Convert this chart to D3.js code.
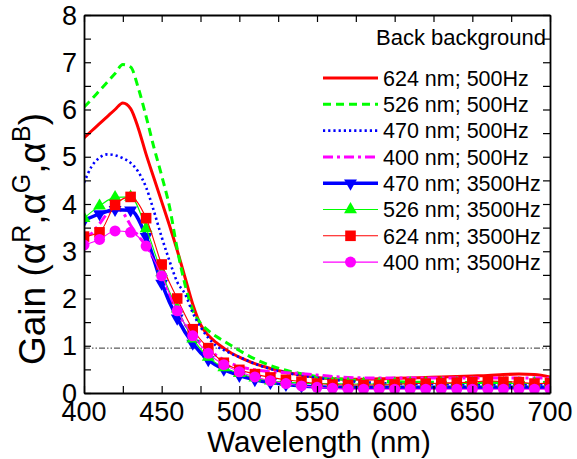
<!DOCTYPE html>
<html>
<head>
<meta charset="utf-8">
<script src="https://cdn.jsdelivr.net/npm/d3@7"></script>
<style>
  html, body { margin: 0; padding: 0; background: #fff; }
  svg text { font-family: "Liberation Sans", Arial, Helvetica, sans-serif; fill: #000; }
</style>
</head>
<body>
<svg id="chart" width="577" height="459"></svg>
<script>
// Wavelength grids (nm)
const wlFine = [400,405,410,415,420,425,430,435,440,445,450,455,460,465,470,475,480,485,490,495,500,
                510,520,530,540,550,560,570,580,590,600,610,620,630,640,650,660,670,680,690,700];
const wlMarked = d3.range(400, 701, 10);

// 500 Hz series (lines only), sampled on wlFine
const red500 = [5.40,5.55,5.70,5.85,6.00,6.14,6.02,5.60,5.05,4.55,4.05,3.55,3.02,2.45,1.88,1.45,1.22,1.07,0.95,0.84,0.76,
                0.62,0.52,0.44,0.38,0.33,0.30,0.29,0.29,0.30,0.31,0.32,0.33,0.34,0.35,0.36,0.37,0.39,0.40,0.39,0.34];
const green500 = [6.05,6.22,6.40,6.58,6.76,6.95,6.90,6.45,5.85,5.20,4.60,3.95,3.05,2.30,1.75,1.48,1.32,1.20,1.10,1.00,0.90,
                  0.72,0.58,0.48,0.41,0.35,0.31,0.28,0.26,0.25,0.24,0.23,0.23,0.23,0.22,0.22,0.22,0.22,0.22,0.22,0.22];
const blue500 = [4.45,4.80,4.98,5.05,5.03,4.97,4.87,4.68,4.35,3.85,3.30,2.80,2.35,2.10,1.70,1.40,1.17,1.00,0.91,0.83,0.76,
                 0.62,0.51,0.43,0.37,0.32,0.28,0.25,0.23,0.21,0.20,0.19,0.19,0.19,0.18,0.18,0.18,0.18,0.18,0.18,0.18];
const magenta500 = [3.30,3.38,3.58,3.80,3.93,3.82,3.55,3.32,3.12,2.82,2.45,2.05,1.72,1.45,1.24,1.06,0.92,0.80,0.70,0.62,0.56,
                    0.49,0.45,0.43,0.41,0.38,0.35,0.33,0.32,0.32,0.32,0.32,0.32,0.32,0.32,0.32,0.32,0.32,0.32,0.32,0.31];

// 3500 Hz series (lines with markers), sampled on wlMarked
const blue3500 = [3.65,3.79,3.88,3.87,3.31,2.32,1.58,1.05,0.70,0.50,0.37,0.28,0.22,0.18,0.15,0.13,0.12,0.12,0.12,0.12,0.12,
                  0.12,0.12,0.12,0.12,0.12,0.12,0.12,0.12,0.12,0.12];
const green3500 = [3.70,3.96,4.14,4.15,3.48,2.55,1.78,1.15,0.76,0.54,0.42,0.32,0.26,0.23,0.21,0.20,0.20,0.19,0.19,0.19,0.19,
                   0.20,0.20,0.20,0.20,0.20,0.20,0.20,0.20,0.20,0.20];
const red3500 = [3.31,3.40,3.98,4.15,3.70,2.72,2.00,1.35,0.95,0.64,0.49,0.40,0.33,0.28,0.24,0.20,0.18,0.17,0.17,0.17,0.18,
                 0.20,0.20,0.21,0.22,0.23,0.26,0.24,0.23,0.20,0.21];
const magenta3500 = [3.13,3.25,3.43,3.40,3.11,2.48,1.74,1.21,0.84,0.60,0.45,0.34,0.26,0.20,0.15,0.12,0.10,0.08,0.08,0.08,0.08,
                     0.08,0.08,0.08,0.08,0.08,0.08,0.08,0.08,0.08,0.08];

const unityLevel = 0.95;

const xTicks = [400,450,500,550,600,650,700];
const yTicks = [0,1,2,3,4,5,6,7,8];

const seriesNames = ["624 nm; 500Hz","526 nm; 500Hz","470 nm; 500Hz","400 nm; 500Hz",
                     "470 nm; 3500Hz","526 nm; 3500Hz","624 nm; 3500Hz","400 nm; 3500Hz"];
const panelNote = "Back background";

// ---- drawing ----
const svg = d3.select("#chart");
const plotL = 84, plotR = 550, plotT = 15, plotB = 393;
const x = d3.scaleLinear().domain([400, 700]).range([plotL, plotR]);
const y = d3.scaleLinear().domain([0, 8]).range([plotB, plotT]);

const series = [
  {name: seriesNames[0], wl: wlFine, v: red500, color: "#ff0000", width: 3, dash: null, marker: null},
  {name: seriesNames[1], wl: wlFine, v: green500, color: "#00ff00", width: 3, dash: "8,5", marker: null},
  {name: seriesNames[2], wl: wlFine, v: blue500, color: "#0000ff", width: 2.6, dash: "2.2,3", marker: null},
  {name: seriesNames[3], wl: wlFine, v: magenta500, color: "#ff00ff", width: 3, dash: "10,4,3,4", marker: null},
  {name: seriesNames[4], wl: wlMarked, v: blue3500, color: "#0000ff", width: 3.5, dash: null, marker: "down"},
  {name: seriesNames[5], wl: wlMarked, v: green3500, color: "#00ff00", width: 1.1, dash: null, marker: "up"},
  {name: seriesNames[6], wl: wlMarked, v: red3500, color: "#ff0000", width: 1.1, dash: null, marker: "square"},
  {name: seriesNames[7], wl: wlMarked, v: magenta3500, color: "#ff00ff", width: 1.1, dash: null, marker: "circle"}
];

const symbolFor = {
  down: d3.symbol().type(d3.symbolTriangle).size(72),
  up: d3.symbol().type(d3.symbolTriangle).size(72),
  square: d3.symbol().type(d3.symbolSquare).size(112),
  circle: d3.symbol().type(d3.symbolCircle).size(95)
};
function markerTransform(kind, px, py) {
  return kind === "down" ? `translate(${px},${py}) rotate(180)` : `translate(${px},${py})`;
}

const plot = svg.append("g");
plot.append("clipPath").attr("id", "clip")
  .append("rect").attr("x", plotL).attr("y", plotT).attr("width", plotR - plotL).attr("height", plotB - plotT);

// Reference line near unity gain
plot.append("line")
  .attr("x1", plotL).attr("x2", plotR)
  .attr("y1", y(unityLevel)).attr("y2", y(unityLevel))
  .attr("stroke", "#333").attr("stroke-width", 1)
  .attr("stroke-dasharray", "6,2,1.5,2,1.5,2");

const lineGen = d3.line().curve(d3.curveMonotoneX);
const curves = plot.append("g").attr("clip-path", "url(#clip)");
series.forEach(s => {
  const pts = s.wl.map((w, i) => [x(w), y(s.v[i])]);
  curves.append("path")
    .attr("d", lineGen(pts))
    .attr("fill", "none")
    .attr("stroke", s.color)
    .attr("stroke-width", s.width)
    .attr("stroke-dasharray", s.dash)
    .attr("stroke-linejoin", "round");
  if (s.marker) {
    curves.append("g").selectAll("path").data(pts).join("path")
      .attr("d", symbolFor[s.marker]())
      .attr("transform", p => markerTransform(s.marker, p[0], p[1]))
      .attr("fill", s.color);
  }
});

// Axes: box frame with inward ticks on all sides
const axes = svg.append("g");
const xMinor = d3.range(400, 701, 25);
const yMinor = d3.range(0, 8.01, 0.5);
axes.append("g").attr("transform", `translate(0,${plotB})`).call(d3.axisBottom(x).tickValues(xMinor)
  .tickSizeInner(-7).tickSizeOuter(0).tickFormat(""));
axes.append("g").attr("transform", `translate(0,${plotT})`).call(d3.axisTop(x).tickValues(xMinor)
  .tickSizeInner(-7).tickSizeOuter(0).tickFormat(""));
axes.append("g").attr("transform", `translate(${plotL},0)`).call(d3.axisLeft(y).tickValues(yMinor)
  .tickSizeInner(-7).tickSizeOuter(0).tickFormat(""));
axes.append("g").attr("transform", `translate(${plotR},0)`).call(d3.axisRight(y).tickValues(yMinor)
  .tickSizeInner(-7).tickSizeOuter(0).tickFormat(""));
axes.selectAll(".domain").attr("stroke", "#000").attr("stroke-width", 1.8);
axes.selectAll(".tick line").attr("stroke", "#000").attr("stroke-width", 1.2);

// Tick labels
svg.append("g").selectAll("text").data(xTicks).join("text")
  .attr("x", d => x(d)).attr("y", 421)
  .attr("text-anchor", "middle").attr("font-size", 27)
  .text(d => d);
svg.append("g").selectAll("text").data(yTicks).join("text")
  .attr("x", 77).attr("y", d => y(d)).attr("dy", "0.36em")
  .attr("text-anchor", "end").attr("font-size", 27)
  .text(d => d);

// Axis titles
svg.append("text")
  .attr("x", (plotL + plotR) / 2 + 2).attr("y", 452)
  .attr("text-anchor", "middle").attr("font-size", 29.5)
  .text("Wavelength (nm)");

// Rotated y title with superscript channel labels (shift given in px so it cancels exactly)
const supShift = 15;
const yTitle = svg.append("text")
  .attr("transform", "translate(45,239) rotate(-90)")
  .attr("text-anchor", "middle").attr("font-size", 37);
yTitle.append("tspan").text("Gain (α");
yTitle.append("tspan").attr("dy", -supShift).attr("font-size", 25).text("R");
yTitle.append("tspan").attr("dy", supShift).text(",α");
yTitle.append("tspan").attr("dy", -supShift).attr("font-size", 25).text("G");
yTitle.append("tspan").attr("dy", supShift).text(",α");
yTitle.append("tspan").attr("dy", -supShift).attr("font-size", 25).text("B");
yTitle.append("tspan").attr("dy", supShift).text(")");

// Legend
svg.append("text")
  .attr("x", 546).attr("y", 45)
  .attr("text-anchor", "end").attr("font-size", 22)
  .text(panelNote);

const legend = svg.append("g");
series.forEach((s, i) => {
  const cy = 78 + i * 26.3;
  legend.append("line")
    .attr("x1", 323).attr("x2", 378).attr("y1", cy).attr("y2", cy)
    .attr("stroke", s.color).attr("stroke-width", s.width)
    .attr("stroke-dasharray", s.dash);
  if (s.marker) {
    legend.append("path")
      .attr("d", symbolFor[s.marker]())
      .attr("transform", markerTransform(s.marker, 350.5, cy))
      .attr("fill", s.color);
  }
  legend.append("text")
    .attr("x", 383).attr("y", cy).attr("dy", "0.36em")
    .attr("font-size", 21.5)
    .text(s.name);
});
</script>
</body>
</html>
